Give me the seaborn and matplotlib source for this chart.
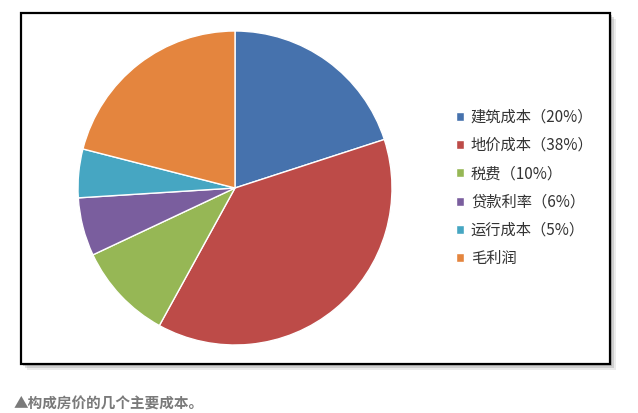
import matplotlib
matplotlib.use("Agg")
import matplotlib.pyplot as plt
import matplotlib.patches as mpatches
import seaborn as sns

# data
categories = ["建筑成本（20%）", "地价成本（38%）", "税费（10%）",
              "贷款利率（6%）", "运行成本（5%）", "毛利润"]
shares = [20, 38, 10, 6, 5, 21]
colors = ["#4672AD", "#BD4B48", "#96B755", "#7A5E9E", "#46A6C2", "#E4853E"]
caption = "▲构成房价的几个主要成本。"

sns.set_theme(style="white")
plt.rcParams["font.family"] = ["Noto Sans CJK SC", "DejaVu Sans"]

W, H = 638, 413
fig = plt.figure(figsize=(W / 100, H / 100), dpi=100)
fig.patch.set_facecolor("white")


def fx(px):
    return px / W


def fy(py):
    return 1 - py / H


# framed chart area with a soft shadow on the right/bottom
box_l, box_t, box_r, box_b = 21, 13, 610, 364
for off, alpha in [(6, 0.15), (4, 0.25), (2, 0.35)]:
    fig.patches.append(mpatches.Rectangle(
        (fx(box_l + off), fy(box_b + off)), fx(box_r - box_l), (box_b - box_t) / H,
        transform=fig.transFigure, facecolor="#808080", edgecolor="none",
        alpha=alpha, zorder=0))
fig.patches.append(mpatches.Rectangle(
    (fx(box_l), fy(box_b)), fx(box_r - box_l), (box_b - box_t) / H,
    transform=fig.transFigure, facecolor="white", edgecolor="black",
    linewidth=1.6, zorder=1))

# pie: centre (235, 188), radius 157 px
cx, cy, r = 235, 188, 157
ax = fig.add_axes([fx(cx - r), fy(cy + r), fx(2 * r), 2 * r / H])
ax.set_zorder(2)
wedges, _ = ax.pie(shares, colors=colors, startangle=90, counterclock=False,
                   wedgeprops=dict(edgecolor="white", linewidth=1.0))
ax.set_xlim(-1, 1)
ax.set_ylim(-1, 1)
ax.set_aspect("equal")
ax.axis("off")

leg = fig.legend(wedges, categories, loc="upper left",
                 bbox_to_anchor=(fx(448), fy(101)), frameon=False,
                 fontsize=11, handlelength=0.55, handleheight=0.55,
                 handletextpad=0.45, labelspacing=0.74, borderpad=0)
for t in leg.get_texts():
    t.set_color("#333333")

fig.text(fx(14), fy(404), caption, fontsize=10.5, fontweight="bold",
         color="#7a7a7a", va="center", ha="left")

fig.savefig("out.png", dpi=100)
